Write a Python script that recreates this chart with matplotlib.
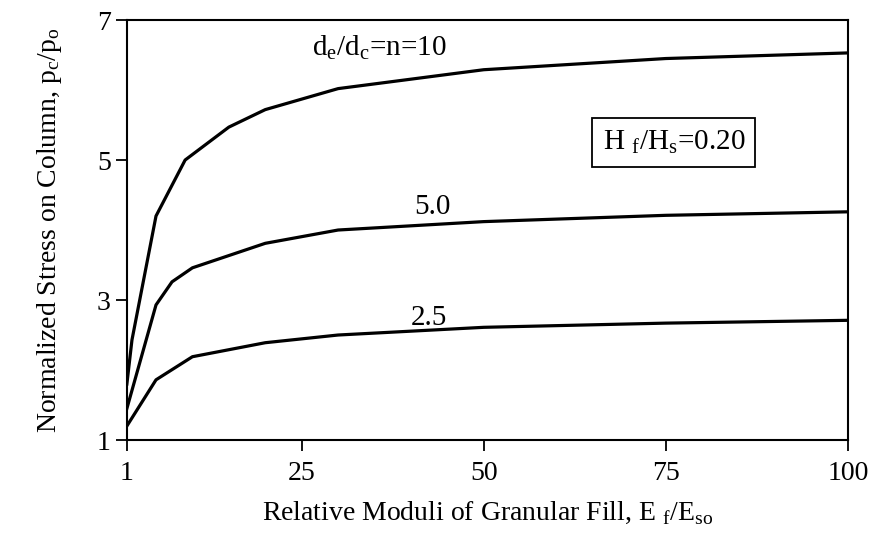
import matplotlib
matplotlib.use("Agg")
import matplotlib.pyplot as plt

plt.rcParams['font.family'] = ['Liberation Serif', 'DejaVu Serif']
plt.rcParams['mathtext.fontset'] = 'custom'
plt.rcParams['mathtext.rm'] = 'Liberation Serif'

# curve values
x_n10 = [1, 1.7, 5, 9, 15, 20, 30, 50, 75, 100]
y_n10 = [1.8, 2.43, 4.2, 5.0, 5.47, 5.72, 6.02, 6.29, 6.45, 6.53]

x_n5 = [1, 5, 7.2, 10, 20, 30, 50, 75, 100]
y_n5 = [1.45, 2.93, 3.26, 3.46, 3.81, 4.0, 4.12, 4.21, 4.26]

x_n25 = [1, 5, 10, 20, 30, 50, 75, 100]
y_n25 = [1.2, 1.86, 2.19, 2.39, 2.5, 2.61, 2.67, 2.71]

xticks = [1, 25, 50, 75, 100]
yticks = [1, 3, 5, 7]

fig = plt.figure(figsize=(8.75, 5.34), dpi=100)
ax = fig.add_axes([0.145, 0.176, 0.824, 0.7865])

for xs, ys in [(x_n10, y_n10), (x_n5, y_n5), (x_n25, y_n25)]:
    ax.plot(xs, ys, color='black', lw=2.3, solid_joinstyle='round')

ax.set_xlim(1, 100)
ax.set_ylim(1, 7)
ax.set_xticks(xticks)
ax.set_yticks(yticks)
ax.tick_params(direction='out', length=8, width=1.3, labelsize=20)
ax.tick_params(axis='x', pad=7)
for s in ax.spines.values():
    s.set_linewidth(1.5)

ax.set_xlabel(r"Relative Moduli of Granular Fill, E $_\mathregular{f}$/E$_\mathregular{so}$", fontsize=20, labelpad=10)
ax.set_ylabel(r"Normalized Stress on Column, $\mathregular{p_c/p_o}$", fontsize=20, labelpad=24)

ax.text(35.7, 6.6, r"d$_\mathregular{e}$/d$_\mathregular{c}$=n=10", fontsize=21, ha='center', va='center')
ax.text(43, 4.33, "5.0", fontsize=21, ha='center', va='center')
ax.text(42.5, 2.74, "2.5", fontsize=21, ha='center', va='center')
ax.text(76.1, 5.25, r"H $_\mathregular{f}$/H$_\mathregular{s}$=0.20", fontsize=21, ha='center', va='center',
        bbox=dict(boxstyle='square,pad=0.35', fc='white', ec='black', lw=1.3))

fig.savefig("out.png", dpi=100)
